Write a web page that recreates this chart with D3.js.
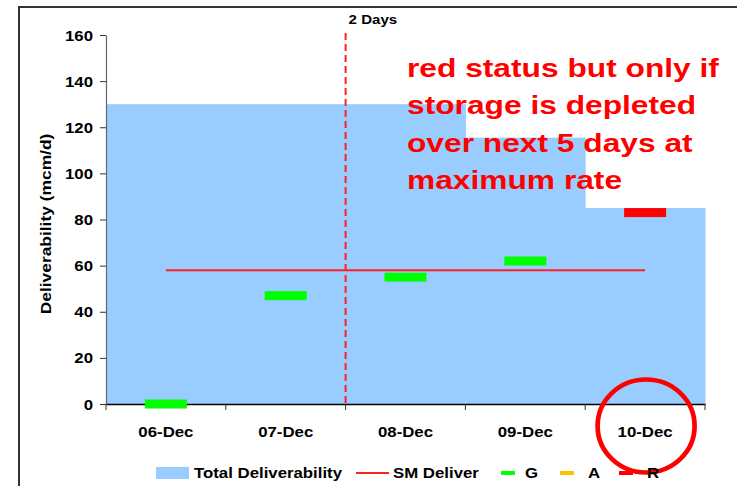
<!DOCTYPE html>
<html>
<head>
<meta charset="utf-8">
<script src="https://cdn.jsdelivr.net/npm/d3@7"></script>
<style>
  body { margin: 0; background: #fff; }
  svg { display: block; font-family: Arial, "Liberation Sans", sans-serif; font-weight: bold; }
</style>
</head>
<body>
<div id="chart"></div>
<script>
// data
var days = ["06-Dec", "07-Dec", "08-Dec", "09-Dec", "10-Dec"];
var totalDeliverability = [130, 130, 130, 115.5, 85];
var smDeliver = [58, 58, 58, 58, 58];
var statusValues = [0, 47, 55, 62, 83];
var statusCodes = ["G", "G", "G", "G", "R"];
var yTicks = [0, 20, 40, 60, 80, 100, 120, 140, 160];
var noteLines = ["red status but only if", "storage is depleted", "over next 5 days at", "maximum rate"];

var width = 737, height = 486;
var statusColor = {"G": "#00ff00", "A": "#ffc000", "R": "#ff0000"};

var svg = d3.select("#chart").append("svg")
    .attr("width", width)
    .attr("height", height);

//outer chart frame (runs past the right and bottom edges)
svg.append("rect")
    .attr("x", 19).attr("y", 7)
    .attr("width", 800).attr("height", 600)
    .attr("fill", "none")
    .attr("stroke", "#333")
    .attr("stroke-width", 2);

var x = d3.scaleBand().domain(days).range([106, 705]).padding(0);
var y = d3.scaleLinear().domain([0, 160]).range([404, 35]);

//text stretched a bit along its baseline, like the original rendering
function stretchText(parent, px, py, str, size, anchor, sx) {
    var g = parent.append("g").attr("transform", "translate(" + px + "," + py + ")");
    g.append("text")
        .attr("text-anchor", anchor)
        .attr("font-size", size)
        .attr("transform", "scale(" + sx + ",1)")
        .text(str);
    return g;
}

// total deliverability as touching columns
svg.selectAll(".total")
    .data(days)
    .enter().append("rect")
    .attr("class", "total")
    .attr("x", function (d) { return x(d); })
    .attr("width", x.bandwidth() + 0.5)
    .attr("y", function (d, i) { return y(totalDeliverability[i]); })
    .attr("height", function (d, i) { return y(0) - y(totalDeliverability[i]); })
    .attr("fill", "#99ccff");

// y axis
var yAxis = svg.append("g")
    .attr("transform", "translate(106,0)")
    .call(d3.axisLeft(y).tickValues(yTicks).tickSize(6).tickSizeOuter(0));
yAxis.select(".domain").attr("stroke", "#666").attr("stroke-width", 1.2);
yAxis.selectAll(".tick line").attr("stroke", "#333");
yAxis.selectAll(".tick text")
    .attr("x", 0).attr("dy", "0.36em")
    .attr("font-size", 14).attr("font-weight", "bold").attr("fill", "#000")
    .attr("font-family", "Arial, 'Liberation Sans', sans-serif")
    .attr("transform", "translate(-13,0) scale(1.2,1)");

// x axis
var xAxis = svg.append("g")
    .attr("transform", "translate(0," + y(0) + ")")
    .call(d3.axisBottom(x).tickSize(0).tickSizeOuter(0));
xAxis.select(".domain").attr("stroke", "#000").attr("stroke-width", 1.5);
xAxis.selectAll(".tick text").remove();
xAxis.selectAll(".tick line").remove();
xAxis.selectAll(".bound")
    .data(days.concat(["end"]))
    .enter().append("line")
    .attr("class", "bound")
    .attr("x1", function (d, i) { return i < days.length ? x(d) : x.range()[1]; })
    .attr("x2", function (d, i) { return i < days.length ? x(d) : x.range()[1]; })
    .attr("y1", 0).attr("y2", 6)
    .attr("stroke", "#333");
days.forEach(function (d) {
    stretchText(svg, x(d) + x.bandwidth() / 2, 437, d, 14, "middle", 1.2);
});

// y axis title
var yt = svg.append("g").attr("transform", "translate(51,224) rotate(-90)");
yt.append("text")
    .attr("text-anchor", "middle")
    .attr("font-size", 14.5)
    .attr("transform", "scale(1.2,1)")
    .text("Deliverability (mcm/d)");

// 2 days marker
var cut = x(days[2]);
svg.append("line")
    .attr("x1", cut).attr("x2", cut)
    .attr("y1", 33).attr("y2", y(0))
    .attr("stroke", "#ff2020")
    .attr("stroke-width", 2)
    .attr("stroke-dasharray", "7,4");
stretchText(svg, cut + 3, 24, "2 Days", 13, "start", 1.16);

// SM deliver line
var line = d3.line()
    .x(function (d, i) { return x(days[i]) + x.bandwidth() / 2; })
    .y(function (d) { return y(d); });
svg.append("path")
    .datum(smDeliver)
    .attr("d", line)
    .attr("fill", "none")
    .attr("stroke", "#ff2020")
    .attr("stroke-width", 2);

// status markers
svg.selectAll(".status")
    .data(statusValues)
    .enter().append("rect")
    .attr("class", "status")
    .attr("x", function (d, i) { return x(days[i]) + x.bandwidth() / 2 - 21; })
    .attr("width", 42)
    .attr("y", function (d) { return y(d) - 4.5; })
    .attr("height", 9)
    .attr("fill", function (d, i) { return statusColor[statusCodes[i]]; });

// note
noteLines.forEach(function (t, i) {
    var g = stretchText(svg, 407, 77 + i * 37.4, t, 26, "start", 1.22);
    g.select("text").attr("fill", "#ff0000");
});

// circle round the last day
svg.append("ellipse")
    .attr("cx", x(days[4]) + x.bandwidth() / 2 + 1)
    .attr("cy", 426)
    .attr("rx", 48.5).attr("ry", 46.5)
    .attr("fill", "none")
    .attr("stroke", "#ff0000")
    .attr("stroke-width", 4.7);

// legend
var ly = 473;
svg.append("rect").attr("x", 156).attr("y", ly - 6).attr("width", 33).attr("height", 12).attr("fill", "#99ccff");
stretchText(svg, 194, ly + 5, "Total Deliverability", 14, "start", 1.2);
svg.append("line").attr("x1", 356).attr("x2", 389).attr("y1", ly).attr("y2", ly)
    .attr("stroke", "#ff2020").attr("stroke-width", 2);
stretchText(svg, 393, ly + 5, "SM Deliver", 14, "start", 1.2);
var legendStatus = [["G", 501, 525], ["A", 560, 588], ["R", 619, 647]];
legendStatus.forEach(function (s) {
    svg.append("rect").attr("x", s[1]).attr("y", ly - 2).attr("width", 14).attr("height", 4)
        .attr("fill", statusColor[s[0]]);
    stretchText(svg, s[2], ly + 5, s[0], 14, "start", 1.2);
});
</script>
</body>
</html>
